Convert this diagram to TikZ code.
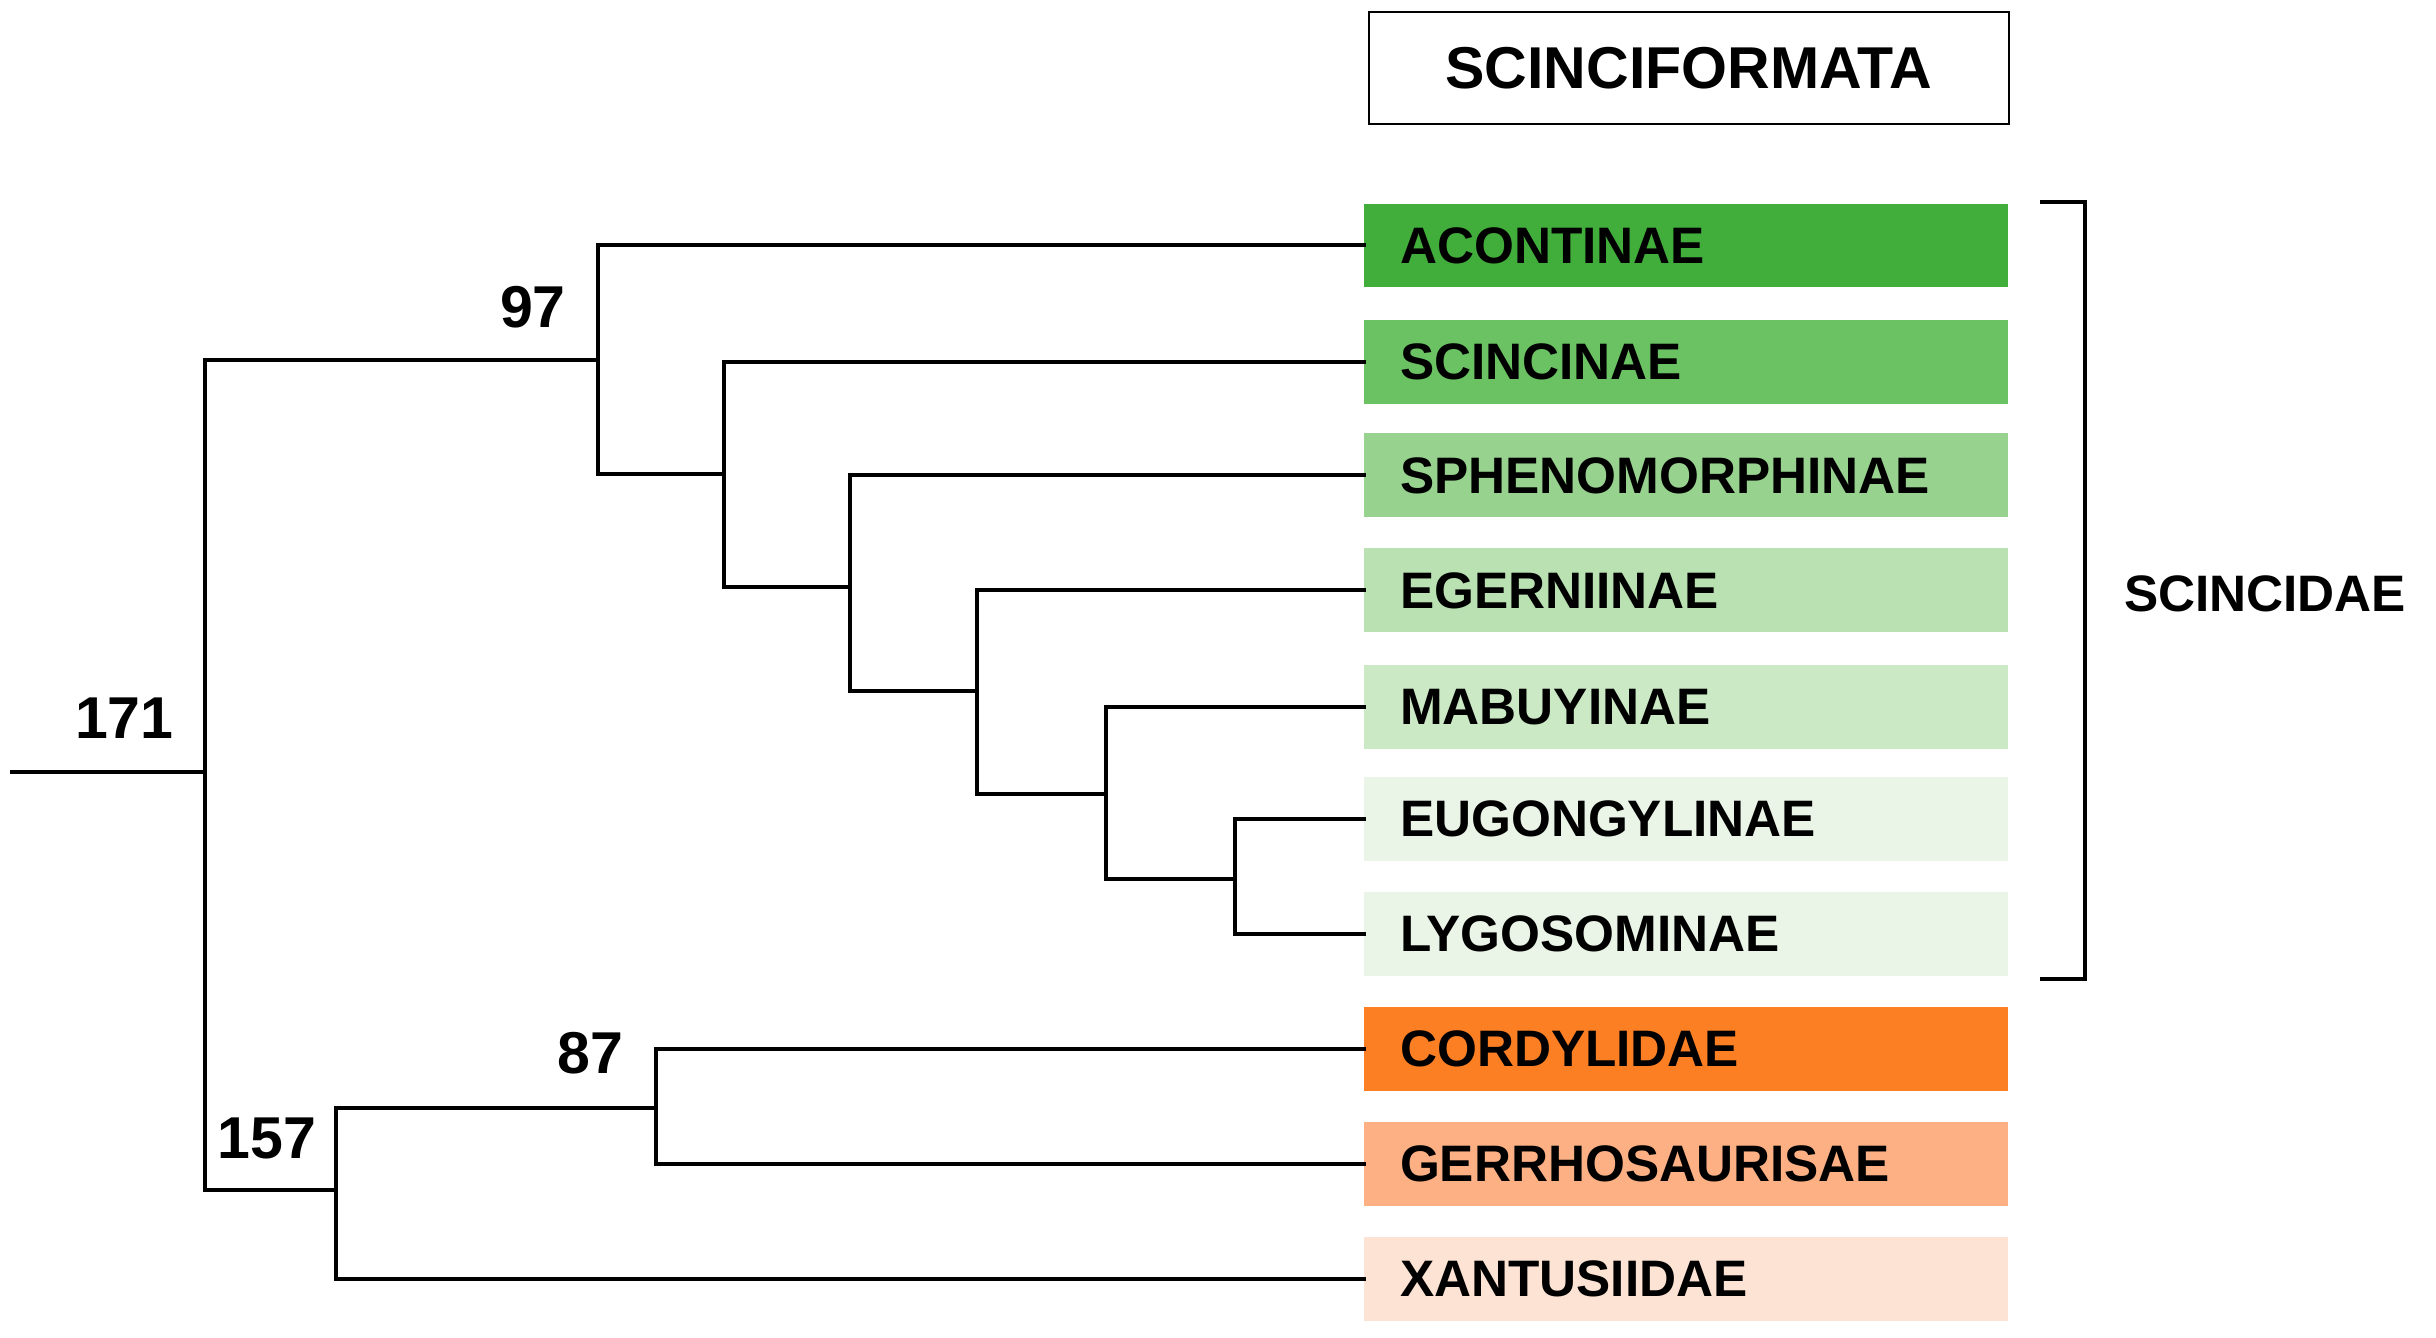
\documentclass[tikz,border=0pt]{standalone}
\usepackage{fontspec}
\setmainfont{Liberation Sans}
\begin{document}
\begin{tikzpicture}[x=1pt,y=-1pt,
  ln/.style={line width=2.6pt,line cap=rect},
  tx/.style={font=\fontsize{33}{36}\selectfont\bfseries,inner sep=0pt},
  num/.style={font=\fontsize{38}{40}\selectfont\bfseries,inner sep=0pt},
  lab/.style={minimum width=414pt,minimum height=54pt,inner sep=0pt,draw=none}]
\useasboundingbox (0,0) rectangle (1568,861);
\definecolor{c1}{HTML}{41AD3B}\definecolor{c2}{HTML}{6AC263}\definecolor{c3}{HTML}{98D28F}
\definecolor{c4}{HTML}{B9E1B2}\definecolor{c5}{HTML}{CAE9C4}\definecolor{c6}{HTML}{EAF5E8}
\definecolor{c8}{HTML}{FD7F23}\definecolor{c9}{HTML}{FCB084}\definecolor{c10}{HTML}{FDE3D3}
\node[draw,line width=1.3pt,minimum width=412pt,minimum height=72pt,tx,font=\fontsize{38}{40}\selectfont\bfseries] (title) at (1087,44) {SCINCIFORMATA};
\foreach \n/\y/\c/\t in {a/158/c1/ACONTINAE,b/233/c2/SCINCINAE,c/306/c3/SPHENOMORPHINAE,d/380/c4/EGERNIINAE,e/455/c5/MABUYINAE,f/527/c6/EUGONGYLINAE,g/601/c6/LYGOSOMINAE,h/675/c8/CORDYLIDAE,i/749/c9/GERRHOSAURISAE,j/823/c10/XANTUSIIDAE}{
  \node[lab,fill=\c,anchor=west] (\n) at (878,\y) {};
  \node[tx,anchor=west] at (901,\y) {\t};
}
% tree
\coordinate (r0) at (8,497);
\draw[ln] (r0) -- (132,497);
\draw[ln] (132,232) -- (132,766);
\draw[ln] (132,232) -- (385,232);
\draw[ln] (385,158) -- (385,305);
\draw[ln] (385,158) -- (a.west);
\draw[ln] (385,305) -- (466,305);
\draw[ln] (466,233) -- (466,378);
\draw[ln] (466,233) -- (b.west);
\draw[ln] (466,378) -- (547,378);
\draw[ln] (547,306) -- (547,445);
\draw[ln] (547,306) -- (c.west);
\draw[ln] (547,445) -- (629,445);
\draw[ln] (629,380) -- (629,511);
\draw[ln] (629,380) -- (d.west);
\draw[ln] (629,511) -- (712,511);
\draw[ln] (712,455) -- (712,566);
\draw[ln] (712,455) -- (e.west);
\draw[ln] (712,566) -- (795,566);
\draw[ln] (795,527) -- (795,601);
\draw[ln] (795,527) -- (f.west);
\draw[ln] (795,601) -- (g.west);
\draw[ln] (132,766) -- (216,766);
\draw[ln] (216,713) -- (216,823);
\draw[ln] (216,713) -- (422,713);
\draw[ln] (422,675) -- (422,749);
\draw[ln] (422,675) -- (h.west);
\draw[ln] (422,749) -- (i.west);
\draw[ln] (216,823) -- (j.west);
% bracket
\draw[line width=2.6pt] (1313,130) -- (1342,130) -- (1342,630) -- (1313,630);
\node[tx,anchor=west] (sc) at (1367,382) {SCINCIDAE};
\node[num] (n171) at (80,462) {171};
\node[num] (n97) at (343,198) {97};
\node[num] (n87) at (380,678) {87};
\node[num] (n157) at (172,733) {157};
\end{tikzpicture}
\end{document}
